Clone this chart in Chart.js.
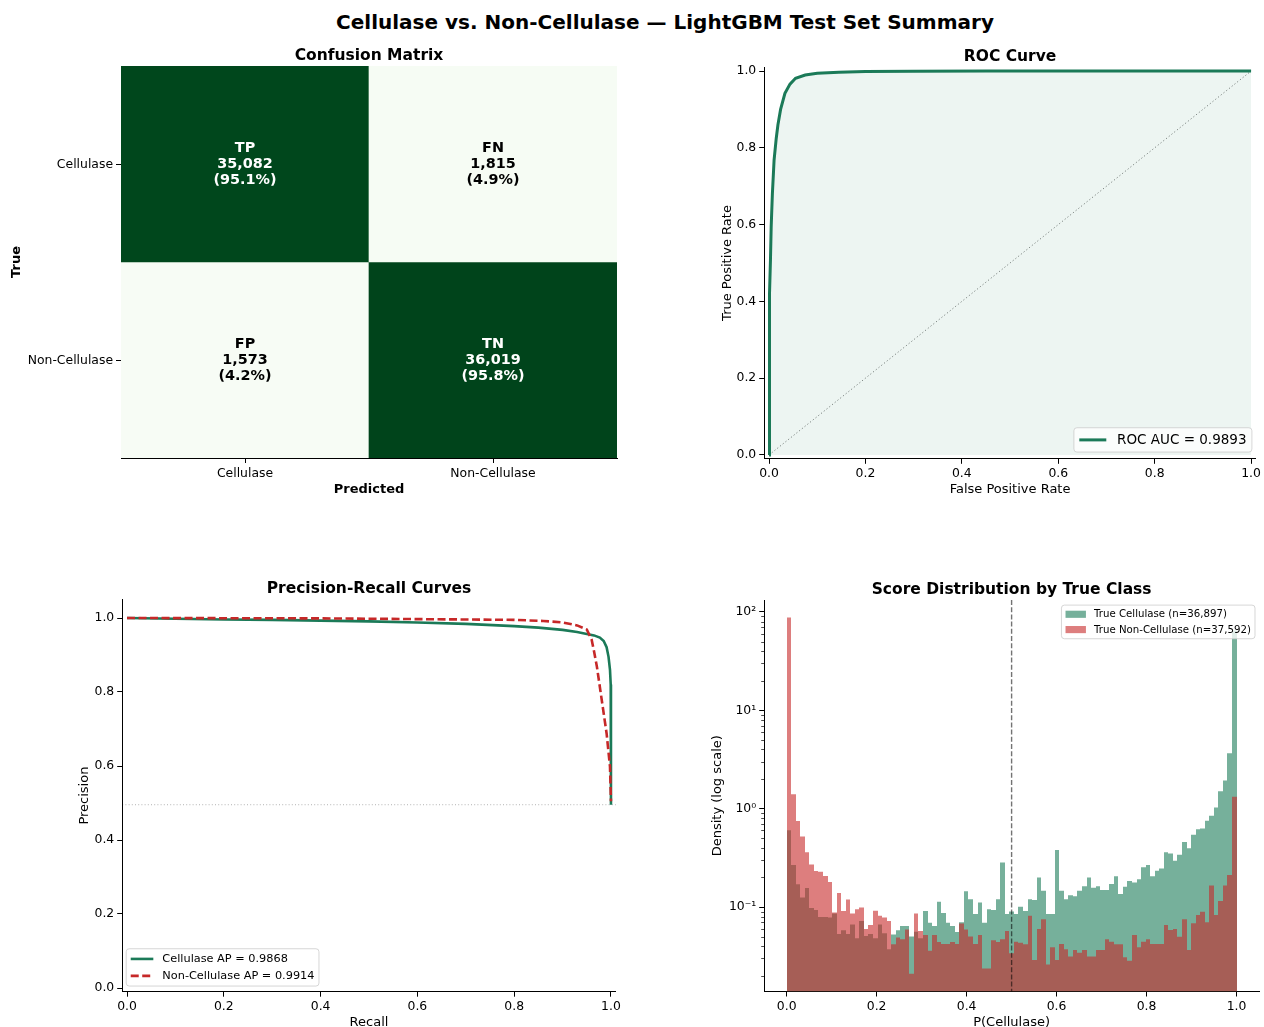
<!DOCTYPE html>
<html>
<head>
<meta charset="utf-8">
<title>Cellulase vs. Non-Cellulase — LightGBM Test Set Summary</title>
<script src="https://cdn.jsdelivr.net/npm/chart.js@4.4.1/dist/chart.umd.min.js"></script>
<style>
  html, body { margin: 0; padding: 0; background: #ffffff; }
  body { position: relative; width: 1264px; height: 1027px; overflow: hidden; }
  #suptitle { position: absolute; left: 0; top: 10px; width: 1330px; text-align: center;
              font: bold 20px 'DejaVu Sans', sans-serif; line-height: 24px; color: #000; }
  canvas { position: absolute; }
</style>
</head>
<body>
<div id="suptitle">Cellulase vs. Non-Cellulase — LightGBM Test Set Summary</div>
<canvas id="cmChart" width="632" height="480" style="left:0px;top:30px;width:632px;height:480px"></canvas>
<canvas id="rocChart" width="632" height="480" style="left:632px;top:30px;width:632px;height:480px"></canvas>
<canvas id="prChart" width="632" height="470" style="left:0px;top:565px;width:632px;height:470px"></canvas>
<canvas id="histChart" width="632" height="470" style="left:632px;top:565px;width:632px;height:470px"></canvas>
<script>
// ---------------- data ----------------
const predLabels = ['Cellulase', 'Non-Cellulase'];
const trueLabels = ['Cellulase', 'Non-Cellulase'];
const cellTags = [['TP', 'FN'], ['FP', 'TN']];
const cmCounts = [[35082, 1815], [1573, 36019]];

const rocFpr = [0, 0, 0.0007, 0.0014, 0.002, 0.003, 0.0045, 0.007, 0.0105, 0.015, 0.0185, 0.024, 0.033,
                0.0435, 0.055, 0.075, 0.1, 0.145, 0.2, 0.3, 0.45, 0.6, 0.8, 1.0];
const rocTpr = [0, 0.074, 0.204, 0.334, 0.421, 0.508, 0.595, 0.681, 0.768, 0.825, 0.86, 0.9, 0.942,
                0.966, 0.981, 0.9896, 0.994, 0.997, 0.999, 0.9995, 0.9998, 0.9999, 1.0, 1.0];
const rocAuc = 0.9893;

const prRecallCel = [0, 0.1, 0.2, 0.3, 0.4, 0.5, 0.6, 0.7, 0.8, 0.85, 0.9, 0.93, 0.95, 0.965, 0.977,
                     0.985, 0.991, 0.995, 0.998, 0.9995, 1.0, 1.0];
const prPrecCel   = [1.0, 0.998, 0.996, 0.995, 0.993, 0.991, 0.988, 0.984, 0.978, 0.974, 0.968, 0.962,
                     0.957, 0.953, 0.947, 0.938, 0.921, 0.895, 0.86, 0.82, 0.78, 0.4953];
const apCel = 0.9868;

const prRecallNon = [0, 0.2, 0.4, 0.6, 0.8, 0.86, 0.9, 0.93, 0.95, 0.96, 0.965, 0.971, 0.981, 0.991,
                     0.998, 1.0];
const prPrecNon   = [1.0, 0.9995, 0.999, 0.997, 0.995, 0.992, 0.988, 0.980, 0.969, 0.942, 0.91, 0.868,
                     0.778, 0.688, 0.598, 0.5047];
const apNon = 0.9914;

const nCel = 36897;
const nNon = 37592;
const threshold = 0.5;

// score histogram: 99 equal-width bins over [0, 1], density per bin
const histBins = 99;
const densCel = [0.605, 0.267, 0.170, 0.125, 0.156, 0.0975, 0.093, 0.079, 0.079, 0.078,
                 0.086, 0.053, 0.058, 0.053, 0.0665, 0.048, 0.072, 0.0506, 0.053, 0.048,
                 0.0665, 0.054, 0.0373, 0.0526, 0.058, 0.064, 0.064, 0.050, 0.056, 0.048,
                 0.091, 0.069, 0.064, 0.113, 0.087, 0.069, 0.064, 0.0556, 0.070, 0.145,
                 0.120, 0.085, 0.111, 0.069, 0.095, 0.093, 0.120, 0.284, 0.085, 0.090,
                 0.085, 0.1007, 0.091, 0.1197, 0.118, 0.200, 0.146, 0.085, 0.085, 0.380,
                 0.146, 0.120, 0.132, 0.129, 0.146, 0.163, 0.199, 0.157, 0.163, 0.149,
                 0.149, 0.171, 0.206, 0.136, 0.161, 0.184, 0.177, 0.191, 0.253, 0.267,
                 0.206, 0.234, 0.247, 0.360, 0.351, 0.296, 0.340, 0.458, 0.395, 0.543,
                 0.616, 0.630, 0.755, 0.848, 1.03, 1.50, 1.93, 3.66, 65];
const densNon = [88, 1.40, 0.75, 0.52, 0.36, 0.27, 0.233, 0.228, 0.207, 0.180,
                 0.088, 0.139, 0.091, 0.119, 0.086, 0.095, 0.099, 0.0596, 0.0655, 0.0914,
                 0.0815, 0.078, 0.072, 0.0417, 0.049, 0.047, 0.059, 0.021, 0.086, 0.057,
                 0.052, 0.036, 0.052, 0.044, 0.042, 0.042, 0.044, 0.042, 0.068, 0.059,
                 0.050, 0.042, 0.052, 0.0237, 0.0237, 0.046, 0.044, 0.047, 0.057, 0.0338,
                 0.0444, 0.0433, 0.0417, 0.0817, 0.0289, 0.0597, 0.075, 0.0261, 0.0389, 0.0289,
                 0.042, 0.0372, 0.0313, 0.0366, 0.0343, 0.0366, 0.0313, 0.0313, 0.0366, 0.0366,
                 0.0469, 0.0444, 0.0417, 0.0417, 0.0308, 0.0284, 0.0519, 0.0389, 0.0444, 0.0469,
                 0.042, 0.042, 0.042, 0.0656, 0.0583, 0.0597, 0.0499, 0.075, 0.0366, 0.0683,
                 0.083, 0.0895, 0.0699, 0.165, 0.083, 0.115, 0.165, 0.211, 1.32];

const unitTicks = [0, 0.2, 0.4, 0.6, 0.8, 1.0];
const logTicks = [0.1, 1, 10, 100];
const logTickLabels = ['10\u207B\u00B9', '10\u2070', '10\u00B9', '10\u00B2'];

// ---------------- styling ----------------
const FONT = "'DejaVu Sans', sans-serif";
Chart.defaults.font.family = FONT;
Chart.defaults.color = '#000';
Chart.defaults.animation = false;

const GREEN = '#1b7a58';
const RED = '#c62828';
const GREEN_FILL = 'rgba(27,123,88,0.6)';
const RED_FILL = 'rgba(198,40,40,0.6)';

const GREENS = [[247,252,245],[229,245,224],[199,233,192],[161,217,155],[116,196,118],
                [65,171,93],[35,139,69],[0,109,44],[0,68,27]];
function greens(t) {
  t = Math.max(0, Math.min(1, t));
  const p = t * (GREENS.length - 1);
  const i = Math.min(GREENS.length - 2, Math.floor(p));
  const f = p - i;
  const a = GREENS[i], b = GREENS[i + 1];
  const c = a.map((v, k) => Math.round(v + (b[k] - v) * f));
  return `rgb(${c[0]},${c[1]},${c[2]})`;
}

const TICK_SIZE = 12.4;

function tickGrid() {
  return { display: true, drawOnChartArea: false, drawTicks: true, tickLength: 5,
           tickColor: '#000', tickWidth: 1 };
}
function spine() { return { display: true, color: '#000', width: 1 }; }
function fixed(values) { return (scale) => { scale.ticks = values.map(v => ({ value: v })); }; }
function axisTitle(text, pad, bold) {
  return { display: true, text, color: '#000',
           font: { size: 13, weight: bold ? 'bold' : 'normal', lineHeight: 1.2 }, padding: pad };
}
function tickFont(pad) { return { font: { size: TICK_SIZE }, color: '#000', padding: pad, maxRotation: 0, autoSkip: false }; }

function panelTitle(text) {
  return {
    id: 'panelTitle',
    afterDraw(chart) {
      const { ctx, chartArea: ca } = chart;
      ctx.save();
      ctx.font = `bold 15.5px ${FONT}`;
      ctx.fillStyle = '#000';
      ctx.textAlign = 'center';
      ctx.textBaseline = 'alphabetic';
      ctx.fillText(text, (ca.left + ca.right) / 2, ca.top - 6.5);
      ctx.restore();
    }
  };
}

function roundRectPath(ctx, x, y, w, h, r) {
  ctx.beginPath();
  ctx.moveTo(x + r, y);
  ctx.lineTo(x + w - r, y); ctx.quadraticCurveTo(x + w, y, x + w, y + r);
  ctx.lineTo(x + w, y + h - r); ctx.quadraticCurveTo(x + w, y + h, x + w - r, y + h);
  ctx.lineTo(x + r, y + h); ctx.quadraticCurveTo(x, y + h, x, y + h - r);
  ctx.lineTo(x, y + r); ctx.quadraticCurveTo(x, y, x + r, y);
  ctx.closePath();
}

// legend box laid out with the usual font-relative paddings
function boxLegend(cfg) {
  return {
    id: 'boxLegend',
    afterDraw(chart) {
      const { ctx, chartArea: ca } = chart;
      const fs = cfg.fontSize;
      const items = cfg.items(chart);
      ctx.save();
      ctx.font = `${fs}px ${FONT}`;
      const textW = Math.max(...items.map(it => ctx.measureText(it.text).width));
      const pad = 0.4 * fs, handleLen = 2 * fs, handleGap = 0.8 * fs;
      const rowH = cfg.rowH * fs, spacing = 0.5 * fs;
      const padX = 4, padY = 0.5 * fs;
      const w = 2 * pad + handleLen + handleGap + textW;
      const h = 2 * pad + items.length * rowH + (items.length - 1) * spacing;
      const x0 = cfg.corner.indexOf('right') >= 0 ? ca.right - padX - w : ca.left + padX;
      const y0 = cfg.corner.indexOf('lower') >= 0 ? ca.bottom - padY - h : ca.top + padY;
      roundRectPath(ctx, x0, y0, w, h, 3);
      ctx.fillStyle = 'rgba(255,255,255,0.8)';
      ctx.fill();
      ctx.strokeStyle = 'rgba(204,204,204,0.8)';
      ctx.lineWidth = 1;
      ctx.stroke();
      items.forEach((it, i) => {
        const cy = y0 + pad + i * (rowH + spacing) + rowH / 2;
        const hx = x0 + pad;
        if (it.kind === 'line') {
          ctx.beginPath();
          ctx.setLineDash(it.dash || []);
          ctx.lineWidth = it.width;
          ctx.strokeStyle = it.color;
          ctx.moveTo(hx, cy);
          ctx.lineTo(hx + handleLen, cy);
          ctx.stroke();
          ctx.setLineDash([]);
        } else {
          ctx.fillStyle = it.color;
          ctx.fillRect(hx, cy - 0.35 * fs, handleLen, 0.7 * fs);
        }
        ctx.fillStyle = '#000';
        ctx.textAlign = 'left';
        ctx.textBaseline = 'middle';
        ctx.fillText(it.text, hx + handleLen + handleGap, cy + 0.5);
      });
      ctx.restore();
    }
  };
}

// keep adjacent bars edge-to-edge on whole pixels so translucent fills show no seams
const snapBars = {
  id: 'snapBars',
  beforeDatasetsDraw(chart) {
    chart.data.datasets.forEach((_, i) => {
      chart.getDatasetMeta(i).data.forEach(el => {
        const l = Math.round(el.x - el.width / 2);
        const r = Math.round(el.x + el.width / 2);
        el.x = (l + r) / 2;
        el.width = r - l;
      });
    });
  }
};

// ---------------- confusion matrix ----------------
const cmNorm = cmCounts.map(row => { const s = row[0] + row[1]; return row.map(v => v / s); });
const cmFlat = cmNorm.flat();
const cmMin = Math.min(...cmFlat), cmMax = Math.max(...cmFlat);
const cmLevel = v => (v - cmMin) / (cmMax - cmMin);

const cmCellText = {
  id: 'cmCellText',
  afterDatasetsDraw(chart) {
    const { ctx, scales: { x, y } } = chart;
    ctx.save();
    ctx.font = `bold 14.4px ${FONT}`;
    ctx.textAlign = 'center';
    ctx.textBaseline = 'middle';
    trueLabels.forEach((_, r) => {
      predLabels.forEach((__, c) => {
        const cx = x.getPixelForValue(c);
        const cy = y.getPixelForValue(r + 0.5);
        const pct = cmNorm[r][c];
        const lines = [cellTags[r][c], cmCounts[r][c].toLocaleString('en-US'), `(${(pct * 100).toFixed(1)}%)`];
        ctx.fillStyle = cmLevel(pct) > 0.5 ? '#ffffff' : '#000000';
        lines.forEach((t, k) => ctx.fillText(t, cx, cy + (k - 1) * 16));
      });
    });
    ctx.restore();
  }
};

new Chart(document.getElementById('cmChart'), {
  type: 'bar',
  data: {
    labels: predLabels,
    datasets: trueLabels.map((lab, r) => ({
      label: lab,
      data: predLabels.map(() => [r, r + 1]),
      backgroundColor: cmNorm[r].map(v => greens(cmLevel(v))),
      borderWidth: 0,
      barPercentage: 1,
      categoryPercentage: 1,
      grouped: false
    }))
  },
  options: {
    responsive: false,
    layout: { padding: { left: 0, top: 36, right: 15, bottom: 0 } },
    plugins: { legend: { display: false }, tooltip: { enabled: false }, title: { display: false } },
    scales: {
      x: {
        type: 'category', offset: true,
        grid: Object.assign(tickGrid(), { offset: false }),
        border: spine(),
        ticks: tickFont(3),
        title: axisTitle('Predicted', { top: 0, bottom: 12.2 }, true),
        afterFit: s => { s.height = 52; }
      },
      y: {
        type: 'linear', min: 0, max: 2, reverse: true,
        afterBuildTicks: fixed(trueLabels.map((_, i) => i + 0.5)),
        grid: tickGrid(),
        border: spine(),
        ticks: Object.assign(tickFont(3), { labelOffset: 1, callback: (v, i) => trueLabels[i] }),
        title: axisTitle('True', { top: 9.2, bottom: 0 }, true),
        afterFit: s => { s.width = 121; }
      }
    }
  },
  plugins: [cmCellText, panelTitle('Confusion Matrix')]
});

// ---------------- ROC curve ----------------
new Chart(document.getElementById('rocChart'), {
  type: 'scatter',
  data: {
    datasets: [
      {
        label: 'ROC',
        data: rocFpr.map((x, i) => ({ x, y: rocTpr[i] })),
        showLine: true, borderColor: GREEN, borderWidth: 3, pointRadius: 0,
        fill: 'origin', backgroundColor: 'rgba(27,123,88,0.08)', tension: 0, order: 1
      },
      {
        label: 'chance',
        data: [{ x: 0, y: 0 }, { x: 1, y: 1 }],
        showLine: true, borderColor: 'rgba(0,0,0,0.5)', borderWidth: 1, borderDash: [1.2, 2.3],
        pointRadius: 0, fill: false, order: 2
      }
    ]
  },
  options: {
    responsive: false,
    layout: { padding: { left: 0, top: 37.2, right: 7.2, bottom: 0 } },
    plugins: { legend: { display: false }, tooltip: { enabled: false }, title: { display: false } },
    scales: {
      x: {
        type: 'linear', min: -0.01, max: 1.01,
        afterBuildTicks: fixed(unitTicks),
        grid: tickGrid(), border: spine(),
        ticks: Object.assign(tickFont(3), { callback: v => v.toFixed(1) }),
        title: axisTitle('False Positive Rate', { top: 0, bottom: 12.2 }, false),
        afterFit: s => { s.height = 51.2; }
      },
      y: {
        type: 'linear', min: -0.01, max: 1.01,
        afterBuildTicks: fixed(unitTicks),
        grid: tickGrid(), border: spine(),
        ticks: Object.assign(tickFont(3), { callback: v => v.toFixed(1) }),
        title: axisTitle('True Positive Rate', { top: 88, bottom: 0 }, false),
        afterFit: s => { s.width = 132.2; }
      }
    }
  },
  plugins: [
    panelTitle('ROC Curve'),
    boxLegend({
      corner: 'lower right', fontSize: 13.5, rowH: 1.0,
      items: chart => [{ kind: 'line', color: chart.data.datasets[0].borderColor, width: 3,
                         text: `ROC AUC = ${rocAuc.toFixed(4)}` }]
    })
  ]
});

// ---------------- precision-recall ----------------
const prevalence = nCel / (nCel + nNon);
const baselinePlugin = {
  id: 'prBaseline',
  beforeDatasetsDraw(chart) {
    const { ctx, chartArea: ca, scales: { y } } = chart;
    const py = y.getPixelForValue(prevalence);
    ctx.save();
    ctx.strokeStyle = 'rgba(0,0,0,0.3)';
    ctx.lineWidth = 1;
    ctx.setLineDash([1, 2.2]);
    ctx.beginPath();
    ctx.moveTo(ca.left, py);
    ctx.lineTo(ca.right, py);
    ctx.stroke();
    ctx.restore();
  }
};

new Chart(document.getElementById('prChart'), {
  type: 'scatter',
  data: {
    datasets: [
      {
        label: 'Cellulase',
        data: prRecallCel.map((x, i) => ({ x, y: prPrecCel[i] })),
        showLine: true, borderColor: GREEN, borderWidth: 2.6, pointRadius: 0, tension: 0, order: 1
      },
      {
        label: 'Non-Cellulase',
        data: prRecallNon.map((x, i) => ({ x, y: prPrecNon[i] })),
        showLine: true, borderColor: RED, borderWidth: 2.6, borderDash: [8, 3.5],
        pointRadius: 0, tension: 0, order: 0
      }
    ]
  },
  options: {
    responsive: false,
    layout: { padding: { left: 0, top: 34.5, right: 16.2, bottom: 0 } },
    plugins: { legend: { display: false }, tooltip: { enabled: false }, title: { display: false } },
    scales: {
      x: {
        type: 'linear', min: -0.01, max: 1.01,
        afterBuildTicks: fixed(unitTicks),
        grid: tickGrid(), border: spine(),
        ticks: Object.assign(tickFont(3), { callback: v => v.toFixed(1) }),
        title: axisTitle('Recall', { top: 0, bottom: 4.2 }, false),
        afterFit: s => { s.height = 43.3; }
      },
      y: {
        type: 'linear', min: -0.01, max: 1.05,
        afterBuildTicks: fixed(unitTicks),
        grid: tickGrid(), border: spine(),
        ticks: Object.assign(tickFont(3), { callback: v => v.toFixed(1) }),
        title: axisTitle('Precision', { top: 77.2, bottom: 0 }, false),
        afterFit: s => { s.width = 122.2; }
      }
    }
  },
  plugins: [
    baselinePlugin,
    panelTitle('Precision-Recall Curves'),
    boxLegend({
      corner: 'lower left', fontSize: 11.3, rowH: 1.0,
      items: chart => [
        { kind: 'line', color: chart.data.datasets[0].borderColor, width: 2.6,
          text: `Cellulase AP = ${apCel.toFixed(4)}` },
        { kind: 'line', color: chart.data.datasets[1].borderColor, width: 2.6, dash: [8, 3.5],
          text: `Non-Cellulase AP = ${apNon.toFixed(4)}` }
      ]
    })
  ]
});

// ---------------- score distribution ----------------
const binCenters = densCel.map((_, i) => (i + 0.5) / histBins);

const thresholdLine = {
  id: 'thresholdLine',
  afterDatasetsDraw(chart) {
    const { ctx, chartArea: ca, scales: { x } } = chart;
    const px = x.getPixelForValue(threshold);
    ctx.save();
    ctx.strokeStyle = 'rgba(0,0,0,0.55)';
    ctx.lineWidth = 1.4;
    ctx.setLineDash([5, 2.2]);
    ctx.beginPath();
    ctx.moveTo(px, ca.top);
    ctx.lineTo(px, ca.bottom);
    ctx.stroke();
    ctx.restore();
  }
};

const minorLogTicks = {
  id: 'minorLogTicks',
  afterDraw(chart) {
    const { ctx, chartArea: ca, scales: { y } } = chart;
    ctx.save();
    ctx.strokeStyle = '#000';
    ctx.lineWidth = 0.7;
    [0.01, 0.1, 1, 10, 100].forEach(d => {
      for (let m = 2; m <= 9; m++) {
        const v = m * d;
        if (v < y.min || v > y.max) continue;
        const py = Math.round(y.getPixelForValue(v)) + 0.5;
        ctx.beginPath();
        ctx.moveTo(ca.left - 3, py);
        ctx.lineTo(ca.left, py);
        ctx.stroke();
      }
    });
    ctx.restore();
  }
};

new Chart(document.getElementById('histChart'), {
  type: 'bar',
  data: {
    datasets: [
      {
        label: 'True Cellulase',
        data: binCenters.map((x, i) => ({ x, y: densCel[i] })),
        backgroundColor: GREEN_FILL, borderWidth: 0, inflateAmount: 0,
        barPercentage: 1, categoryPercentage: 1, grouped: false, order: 1
      },
      {
        label: 'True Non-Cellulase',
        data: binCenters.map((x, i) => ({ x, y: densNon[i] })),
        backgroundColor: RED_FILL, borderWidth: 0, inflateAmount: 0,
        barPercentage: 1, categoryPercentage: 1, grouped: false, order: 0
      }
    ]
  },
  options: {
    responsive: false,
    layout: { padding: { left: 0, top: 35, right: 5, bottom: 0 } },
    plugins: { legend: { display: false }, tooltip: { enabled: false }, title: { display: false } },
    scales: {
      x: {
        type: 'linear', min: -0.05, max: 1.05, offset: false,
        afterBuildTicks: fixed(unitTicks),
        grid: Object.assign(tickGrid(), { offset: false }), border: spine(),
        ticks: Object.assign(tickFont(3), { callback: v => v.toFixed(1) }),
        title: axisTitle('P(Cellulase)', { top: 0, bottom: 4.2 }, false),
        afterFit: s => { s.height = 43.5; }
      },
      y: {
        type: 'logarithmic', min: 0.01383, max: 132.4,
        afterBuildTicks: fixed(logTicks),
        grid: tickGrid(), border: spine(),
        ticks: Object.assign(tickFont(3), { callback: (v, i) => logTickLabels[i] }),
        title: axisTitle('Density (log scale)', { top: 78.2, bottom: 0 }, false),
        afterFit: s => { s.width = 132.2; }
      }
    }
  },
  plugins: [
    snapBars,
    thresholdLine,
    minorLogTicks,
    panelTitle('Score Distribution by True Class'),
    boxLegend({
      corner: 'upper right', fontSize: 10.2, rowH: 1.0,
      items: chart => [
        { kind: 'patch', color: chart.data.datasets[0].backgroundColor,
          text: `True Cellulase (n=${nCel.toLocaleString('en-US')})` },
        { kind: 'patch', color: chart.data.datasets[1].backgroundColor,
          text: `True Non-Cellulase (n=${nNon.toLocaleString('en-US')})` }
      ]
    })
  ]
});
</script>
</body>
</html>
